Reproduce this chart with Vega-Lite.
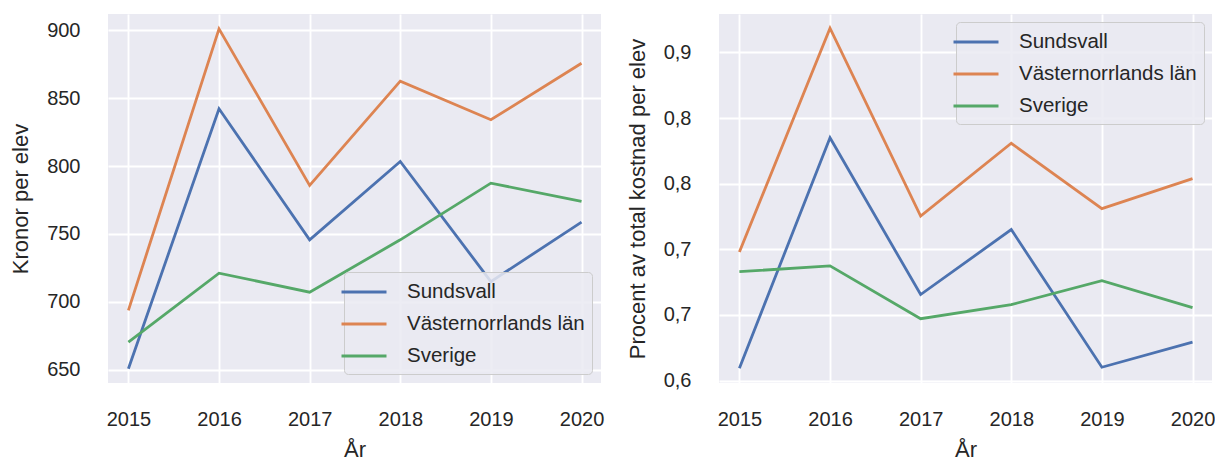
{
  "$schema": "https://vega.github.io/schema/vega-lite/v6.json",
  "background": "white",
  "padding": {"left": 9, "top": 14, "right": 0, "bottom": 0},
  "bounds": "flush",
  "spacing": 118,
  "config": {
    "font": "Liberation Sans",
    "view": {"fill": "#EAEAF2", "stroke": null},
    "axis": {
      "domain": false,
      "ticks": false,
      "grid": true,
      "gridColor": "white",
      "gridWidth": 1.9,
      "labelFont": "Liberation Sans",
      "labelFontSize": 20,
      "labelColor": "#262626",
      "titleFont": "Liberation Sans",
      "titleFontSize": 22,
      "titleFontWeight": "normal",
      "titleColor": "#262626"
    },
    "axisX": {"labelPadding": 26, "titlePadding": 10},
    "axisY": {"labelPadding": 28, "titlePadding": 14},
    "legend": {
      "title": null,
      "symbolType": "M-2,0H2",
      "symbolSize": 506,
      "symbolStrokeWidth": 2.8,
      "labelFont": "Liberation Sans",
      "labelFontSize": 20.5,
      "labelColor": "#262626",
      "labelOffset": 30,
      "labelLimit": 400,
      "rowPadding": 8,
      "padding": 7,
      "fillColor": "rgba(234,234,242,0.85)",
      "strokeColor": "#cccccc",
      "cornerRadius": 4
    }
  },
  "datasets": {
    "kr": [
      {"year": 2015, "region": "Sundsvall", "value": 650.9},
      {"year": 2016, "region": "Sundsvall", "value": 842.1},
      {"year": 2017, "region": "Sundsvall", "value": 745.7},
      {"year": 2018, "region": "Sundsvall", "value": 803.3},
      {"year": 2019, "region": "Sundsvall", "value": 715.0},
      {"year": 2020, "region": "Sundsvall", "value": 758.7},
      {"year": 2015, "region": "Västernorrlands län", "value": 693.8},
      {"year": 2016, "region": "Västernorrlands län", "value": 900.9},
      {"year": 2017, "region": "Västernorrlands län", "value": 785.7},
      {"year": 2018, "region": "Västernorrlands län", "value": 862.4},
      {"year": 2019, "region": "Västernorrlands län", "value": 834.0},
      {"year": 2020, "region": "Västernorrlands län", "value": 875.6},
      {"year": 2015, "region": "Sverige", "value": 670.4},
      {"year": 2016, "region": "Sverige", "value": 721.2},
      {"year": 2017, "region": "Sverige", "value": 707.2},
      {"year": 2018, "region": "Sverige", "value": 745.7},
      {"year": 2019, "region": "Sverige", "value": 787.4},
      {"year": 2020, "region": "Sverige", "value": 773.9}
    ],
    "pct": [
      {"year": 2015, "region": "Sundsvall", "value": 0.6094},
      {"year": 2016, "region": "Sundsvall", "value": 0.7850},
      {"year": 2017, "region": "Sundsvall", "value": 0.6655},
      {"year": 2018, "region": "Sundsvall", "value": 0.7150},
      {"year": 2019, "region": "Sundsvall", "value": 0.6101},
      {"year": 2020, "region": "Sundsvall", "value": 0.6292},
      {"year": 2015, "region": "Västernorrlands län", "value": 0.6979},
      {"year": 2016, "region": "Västernorrlands län", "value": 0.8685},
      {"year": 2017, "region": "Västernorrlands län", "value": 0.7253},
      {"year": 2018, "region": "Västernorrlands län", "value": 0.7808},
      {"year": 2019, "region": "Västernorrlands län", "value": 0.7310},
      {"year": 2020, "region": "Västernorrlands län", "value": 0.7539},
      {"year": 2015, "region": "Sverige", "value": 0.6829},
      {"year": 2016, "region": "Sverige", "value": 0.6874},
      {"year": 2017, "region": "Sverige", "value": 0.6471},
      {"year": 2018, "region": "Sverige", "value": 0.6578},
      {"year": 2019, "region": "Sverige", "value": 0.6761},
      {"year": 2020, "region": "Sverige", "value": 0.6555}
    ]
  },
  "hconcat": [
    {
      "width": 493,
      "height": 369,
      "data": {"name": "kr"},
      "mark": {"type": "line", "strokeWidth": 2.8},
      "encoding": {
        "x": {
          "field": "year", "type": "quantitative", "title": "År",
          "scale": {"domain": [2014.775, 2020.215], "nice": false, "zero": false},
          "axis": {"values": [2015, 2016, 2017, 2018, 2019, 2020], "format": "d"}
        },
        "y": {
          "field": "value", "type": "quantitative", "title": "Kronor per elev",
          "scale": {"domain": [640.4, 911.8], "nice": false, "zero": false},
          "axis": {"values": [650, 700, 750, 800, 850, 900], "format": "d"}
        },
        "color": {
          "field": "region", "type": "nominal",
          "scale": {"domain": ["Sundsvall", "Västernorrlands län", "Sverige"], "range": ["#4C72B0", "#DD8452", "#55A868"]},
          "legend": {"orient": "bottom-right", "offset": 9}
        }
      }
    },
    {
      "width": 493,
      "height": 369,
      "data": {"name": "pct"},
      "mark": {"type": "line", "strokeWidth": 2.8},
      "encoding": {
        "x": {
          "field": "year", "type": "quantitative", "title": "År",
          "scale": {"domain": [2014.775, 2020.215], "nice": false, "zero": false},
          "axis": {"values": [2015, 2016, 2017, 2018, 2019, 2020], "format": "d"}
        },
        "y": {
          "field": "value", "type": "quantitative", "title": "Procent av total kostnad per elev",
          "scale": {"domain": [0.5981, 0.8793], "nice": false, "zero": false},
          "axis": {"values": [0.6, 0.65, 0.7, 0.75, 0.8, 0.85], "labelExpr": "replace(format(datum.value + 0.000001, '.1f'), '.', ',')"}
        },
        "color": {
          "field": "region", "type": "nominal",
          "scale": {"domain": ["Sundsvall", "Västernorrlands län", "Sverige"], "range": ["#4C72B0", "#DD8452", "#55A868"]},
          "legend": {"orient": "top-right", "offset": 8}
        }
      }
    }
  ],
  "resolve": {"scale": {"color": "independent"}, "legend": {"color": "independent"}}
}
